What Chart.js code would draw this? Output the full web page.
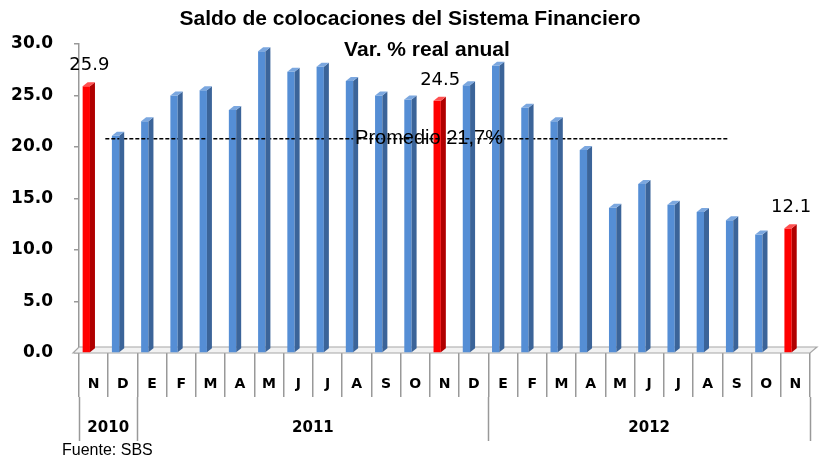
<!DOCTYPE html>
<html>
<head>
<meta charset="utf-8">
<script src="https://cdn.jsdelivr.net/npm/chart.js@4/dist/chart.umd.min.js"></script>
<style>
html,body{margin:0;padding:0;background:#fff;}
#wrap{width:823px;height:461px;position:relative;}
</style>
</head>
<body>
<div id="wrap"><canvas id="c" width="823" height="461"></canvas></div>
<script>
// ---- data ----
const months = ['N','D','E','F','M','A','M','J','J','A','S','O','N','D','E','F','M','A','M','J','J','A','S','O','N'];
const values = [25.9,21.1,22.5,25.0,25.5,23.6,29.3,27.3,27.8,26.4,25.0,24.6,24.5,26.0,27.9,23.8,22.5,19.7,14.1,16.4,14.4,13.7,12.9,11.5,12.1];
const highlighted = [0,12,24];
const years = ['2010','2011','2012'];
const yearStarts = [0,2,14];
const yearEnd = 25;
const avgValue = 20.8;
const avgSpan = [0.4, 21.7];
const avgLabel = 'Promedio 21,7%';
const avgLabelPos = 11.47;
const yTicks = [0,5,10,15,20,25,30];
const titleText = 'Saldo de colocaciones del Sistema Financiero';
const subtitleText = 'Var. % real anual';
const sourceText = 'Fuente: SBS';

const BLUE = '#558ED5', BLUE_SIDE = '#3B6499', BLUE_TOP = '#7BA7DF';
const RED = '#FF0000', RED_SIDE = '#B00000', RED_TOP = '#FF5050';
const isHi = i => highlighted.includes(i);

const bar3d = {
  id: 'bar3d',
  beforeDatasetsDraw(chart) {
    const ctx = chart.ctx, a = chart.chartArea;
    const base = chart.scales.y.getPixelForValue(0);
    ctx.save();
    ctx.beginPath();
    ctx.moveTo(a.left - 6, base);
    ctx.lineTo(a.left, base - 6);
    ctx.lineTo(a.right + 7, base - 6);
    ctx.lineTo(a.right, base);
    ctx.closePath();
    ctx.fillStyle = '#f2f2f2';
    ctx.fill();
    ctx.strokeStyle = '#a6a6a6';
    ctx.lineWidth = 1.2;
    ctx.stroke();
    ctx.restore();
  },
  afterDatasetsDraw(chart) {
    const ctx = chart.ctx;
    const meta = chart.getDatasetMeta(0);
    const d = 5, dv = 4;
    ctx.save();
    meta.data.forEach((el, i) => {
      const p = el.getProps(['x','y','base','width'], true);
      const l = p.x - p.width/2, r = p.x + p.width/2;
      ctx.beginPath();
      ctx.moveTo(r, p.y); ctx.lineTo(r + d, p.y - dv); ctx.lineTo(r + d, p.base - dv); ctx.lineTo(r, p.base); ctx.closePath();
      ctx.fillStyle = isHi(i) ? RED_SIDE : BLUE_SIDE; ctx.fill();
      ctx.beginPath();
      ctx.moveTo(l, p.y); ctx.lineTo(l + d, p.y - dv); ctx.lineTo(r + d, p.y - dv); ctx.lineTo(r, p.y); ctx.closePath();
      ctx.fillStyle = isHi(i) ? RED_TOP : BLUE_TOP; ctx.fill();
    });
    ctx.font = '18px "DejaVu Sans"';
    ctx.fillStyle = '#000';
    ctx.textAlign = 'center';
    ctx.textBaseline = 'alphabetic';
    highlighted.forEach(i => {
      const el = meta.data[i];
      ctx.fillText(values[i].toFixed(1), el.x + 3, el.y - 16);
    });
    const xl = chart.scales.xl, y = chart.scales.y;
    ctx.font = '20px "Liberation Sans"';
    ctx.textBaseline = 'middle';
    ctx.fillText(avgLabel, xl.getPixelForValue(avgLabelPos), y.getPixelForValue(avgValue));
    ctx.restore();
  },
  afterDraw(chart) {
    const ctx = chart.ctx, a = chart.chartArea;
    const w = (a.right - a.left) / months.length;
    const top = a.bottom + 44, bottom = a.bottom + 88;
    ctx.save();
    ctx.strokeStyle = '#999';
    ctx.lineWidth = 1.5;
    const bounds = yearStarts.concat([yearEnd]);
    bounds.forEach(b => {
      const px = Math.round(a.left + b * w) + 0.5;
      ctx.beginPath(); ctx.moveTo(px, top); ctx.lineTo(px, bottom); ctx.stroke();
    });
    ctx.fillStyle = '#000';
    ctx.font = 'bold 15px "DejaVu Sans"';
    ctx.textAlign = 'center';
    ctx.textBaseline = 'middle';
    years.forEach((yr, k) => {
      const cx = a.left + (bounds[k] + bounds[k+1]) / 2 * w;
      ctx.fillText(yr, cx, a.bottom + 75);
    });
    ctx.font = 'bold 21px "Liberation Sans"';
    ctx.fillText(titleText, 410, 19);
    ctx.fillText(subtitleText, 427, 50);
    ctx.font = '16px "Liberation Sans"';
    ctx.textAlign = 'left';
    ctx.fillText(sourceText, 62, 451);
    ctx.restore();
  }
};

new Chart(document.getElementById('c'), {
  data: {
    labels: months,
    datasets: [
      {
        type: 'bar',
        data: values,
        backgroundColor: values.map((v, i) => isHi(i) ? RED : BLUE),
        barPercentage: 0.5,
        categoryPercentage: 1,
        xAxisID: 'x',
        yAxisID: 'y',
        order: 2
      },
      {
        type: 'line',
        data: avgSpan.map(v => ({x: v, y: avgValue})),
        xAxisID: 'xl',
        yAxisID: 'y',
        borderColor: '#000',
        borderWidth: 1.3,
        borderDash: [4, 2],
        pointRadius: 0,
        fill: false,
        order: 1
      }
    ]
  },
  options: {
    responsive: false,
    animation: false,
    events: [],
    layout: { padding: { top: 44, right: 13, left: 0, bottom: 0 } },
    plugins: { legend: { display: false }, tooltip: { enabled: false }, title: { display: false } },
    scales: {
      x: {
        type: 'category',
        offset: true,
        afterFit(s) { s.height = 108; },
        border: { display: false },
        grid: { display: true, drawOnChartArea: false, offset: true, tickLength: 44, color: '#999', lineWidth: 1.5 },
        ticks: { autoSkip: false, maxRotation: 0, minRotation: 0, padding: -21, color: '#000', font: { family: 'DejaVu Sans', weight: 'bold', size: 14 } }
      },
      xl: {
        type: 'linear',
        display: false,
        min: -0.5,
        max: months.length - 0.5
      },
      y: {
        min: 0,
        max: 30,
        afterFit(s) { s.width = 79; },
        afterBuildTicks(s) { s.ticks = yTicks.map(v => ({ value: v })); },
        border: { display: true, color: '#999', width: 1.5 },
        grid: { drawOnChartArea: false, tickLength: 5, color: '#999', lineWidth: 1.5 },
        ticks: { padding: 21, color: '#000', font: { family: 'DejaVu Sans', weight: 'bold', size: 17 }, callback: v => Number(v).toFixed(1) }
      }
    }
  },
  plugins: [bar3d]
});
</script>
</body>
</html>
